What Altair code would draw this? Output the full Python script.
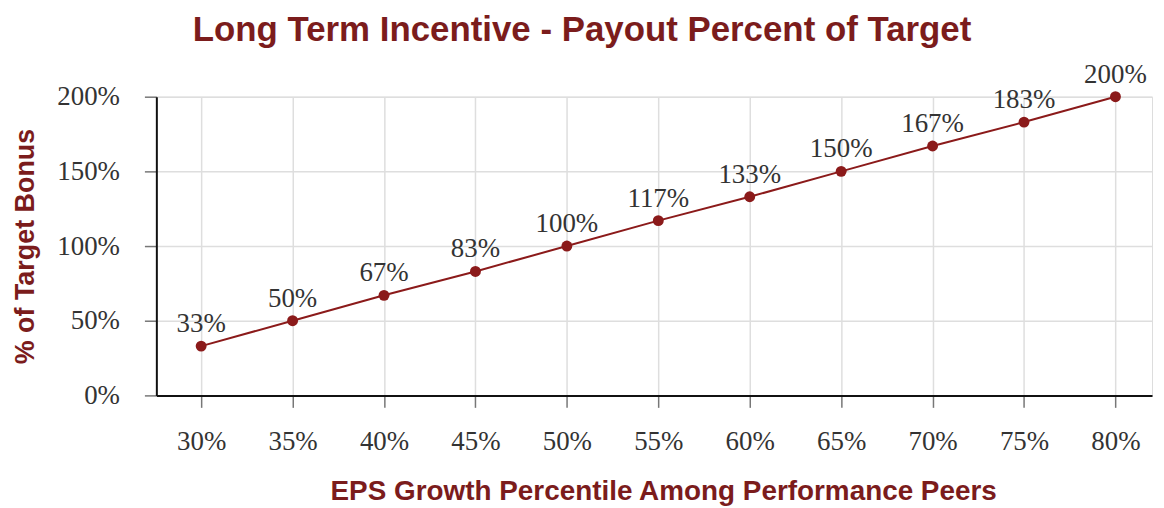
import altair as alt
import pandas as pd

eps_percentile = [30, 35, 40, 45, 50, 55, 60, 65, 70, 75, 80]
payout_pct = [33, 50, 67, 83, 100, 117, 133, 150, 167, 183, 200]
x_ticks = [30, 35, 40, 45, 50, 55, 60, 65, 70, 75, 80]
y_ticks = [0, 50, 100, 150, 200]

df = pd.DataFrame({"eps": eps_percentile, "payout": payout_pct})
df["label"] = [f"{v}%" for v in payout_pct]

RED = "#7b1c1c"
LINE_RED = "#8b1a1a"
SERIF = "Liberation Serif"
SANS = "Liberation Sans"

x_enc = alt.X(
    "eps:Q",
    scale=alt.Scale(domain=[27.55, 82.0], nice=False, zero=False),
    axis=alt.Axis(
        values=x_ticks,
        labelExpr="datum.value + '%'",
        title="EPS Growth Percentile Among Performance Peers",
        titleFont=SANS, titleFontSize=28, titleFontWeight="bold", titleColor=RED,
        titlePadding=24, titleX=509,
        labelFont=SERIF, labelFontSize=27, labelColor="#333333", labelPadding=21,
        domainColor="#111111", domainWidth=2,
        tickColor="#777777", tickSize=12, tickWidth=1.5,
        gridColor="#dedede", gridWidth=1.5,
    ),
)
y_enc = alt.Y(
    "payout:Q",
    scale=alt.Scale(domain=[0, 200], nice=False),
    axis=alt.Axis(
        values=y_ticks,
        labelExpr="datum.value + '%'",
        title="% of Target Bonus",
        titleFont=SANS, titleFontSize=27, titleFontWeight="bold", titleColor=RED,
        titlePadding=17,
        labelFont=SERIF, labelFontSize=27, labelColor="#333333", labelPadding=25,
        domainColor="#111111", domainWidth=2,
        tickColor="#777777", tickSize=12, tickWidth=1.5,
        gridColor="#dedede", gridWidth=1.5,
    ),
)

base = alt.Chart(df).encode(x=x_enc, y=y_enc)
line = base.mark_line(color=LINE_RED, strokeWidth=2)
points = base.mark_circle(color=LINE_RED, size=120, opacity=1)
labels = base.mark_text(
    dy=-22, font=SERIF, fontSize=27, color="#333333", baseline="middle"
).encode(text="label:N")

chart = (
    alt.layer(line, points, labels)
    .properties(
        width=1000,
        height=300,
        autosize=alt.AutoSizeParams(type="none"),
        padding={"left": 149, "top": 88, "right": 4, "bottom": 110},
        title=alt.TitleParams(
            "Long Term Incentive - Payout Percent of Target",
            font=SANS, fontSize=35, fontWeight="bold", color=RED,
            anchor="middle", frame="bounds", offset=13,
        ),
    )
    .configure_view(stroke=None)
    .configure(background="white")
)

chart.save("out.html", embed_options={"renderer": "svg", "actions": False})
